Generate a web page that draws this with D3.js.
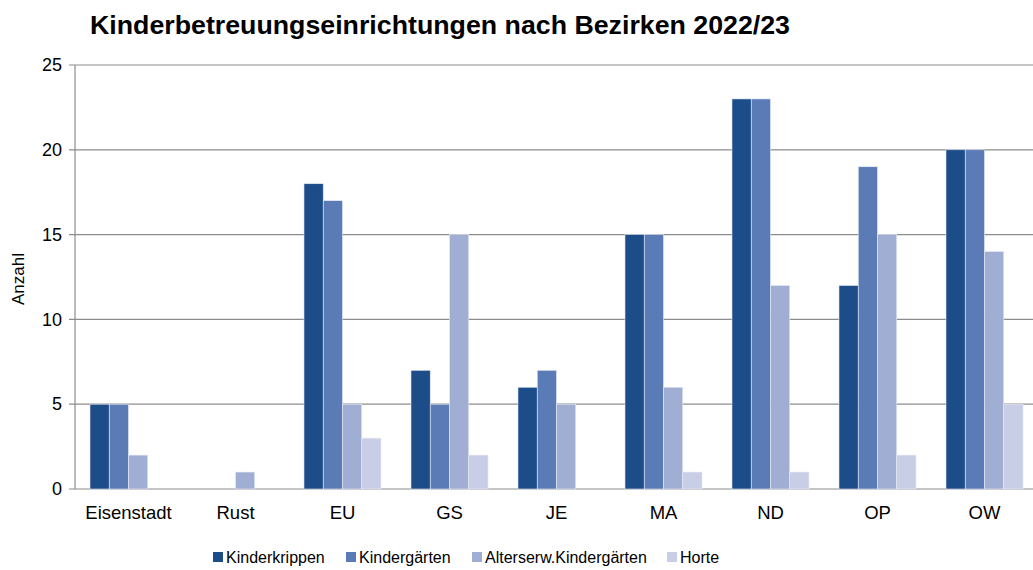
<!DOCTYPE html>
<html>
<head>
<meta charset="utf-8">
<script src="https://cdn.jsdelivr.net/npm/d3@7"></script>
<style>
  body { margin: 0; background: #fff; }
  svg { font-family: "Liberation Sans", Arial, sans-serif; }
</style>
</head>
<body>
<svg id="chart"></svg>
<script>
// Data
let categories = ['Eisenstadt', 'Rust', 'EU', 'GS', 'JE', 'MA', 'ND', 'OP', 'OW'];
let seriesNames = ['Kinderkrippen', 'Kindergärten', 'Alterserw.Kindergärten', 'Horte'];
let kinderkrippen = [5, 0, 18, 7, 6, 15, 23, 12, 20];
let kindergaerten = [5, 0, 17, 5, 7, 15, 23, 19, 20];
let alterserw = [2, 1, 5, 15, 5, 6, 12, 15, 14];
let horte = [0, 0, 3, 2, 0, 1, 1, 2, 5];
let yTicks = [0, 5, 10, 15, 20, 25];

let colors = ['#1c4d89', '#5b7bb7', '#a0aed4', '#c8cee6'];
let seriesValues = [kinderkrippen, kindergaerten, alterserw, horte];

let width = 1033;
let height = 570;
let margin = {left: 75, top: 65, right: -5, bottom: 81};

let svg = d3.select('#chart')
    .attr('width', width)
    .attr('height', height);

let xScale = d3.scaleBand()
    .domain(categories)
    .range([margin.left, width - margin.right])
    .paddingInner(0.28)
    .paddingOuter(0.14);

let innerScale = d3.scaleBand()
    .domain(seriesNames)
    .range([0, xScale.bandwidth()]);

let yScale = d3.scaleLinear()
    .domain([0, 25])
    .range([height - margin.bottom, margin.top]);

// gridlines
svg.append('g')
    .selectAll('line')
    .data(yTicks)
    .enter()
    .append('line')
    .attr('x1', margin.left - 6)
    .attr('x2', width)
    .attr('y1', d => yScale(d))
    .attr('y2', d => yScale(d))
    .attr('stroke', '#8c8c8c')
    .attr('stroke-width', 1.2);

// bars
let rows = [];
categories.forEach((c, i) => {
    seriesNames.forEach((s, j) => {
        rows.push({cat: c, series: s, value: seriesValues[j][i], color: colors[j]});
    });
});

svg.append('g')
    .selectAll('rect')
    .data(rows.filter(d => d.value > 0))
    .enter()
    .append('rect')
    .attr('x', d => xScale(d.cat) + innerScale(d.series))
    .attr('y', d => yScale(d.value))
    .attr('width', innerScale.bandwidth())
    .attr('height', d => yScale(0) - yScale(d.value))
    .attr('fill', d => d.color)
    .attr('stroke', '#e8ecf6')
    .attr('stroke-width', 0.6);

// y axis
let yAxis = d3.axisLeft(yScale).tickValues(yTicks).tickSize(0).tickPadding(13);
let yG = svg.append('g')
    .attr('transform', 'translate(' + margin.left + ',0)')
    .call(yAxis);
yG.select('.domain').remove();
yG.selectAll('text')
    .attr('font-size', 18)
    .attr('fill', '#000')
    .attr('font-family', '"Liberation Sans", Arial, sans-serif');

svg.append('line')
    .attr('x1', margin.left)
    .attr('x2', margin.left)
    .attr('y1', yScale(25))
    .attr('y2', yScale(0))
    .attr('stroke', '#8c8c8c')
    .attr('stroke-width', 1.2);

// x axis
let xAxis = d3.axisBottom(xScale).tickSize(0).tickPadding(17);
let xG = svg.append('g')
    .attr('transform', 'translate(0,' + yScale(0) + ')')
    .call(xAxis);
xG.select('.domain').remove();
xG.selectAll('text')
    .attr('font-size', 18.5)
    .attr('fill', '#000')
    .attr('font-family', '"Liberation Sans", Arial, sans-serif');

// title
svg.append('text')
    .attr('x', 90)
    .attr('y', 34)
    .attr('font-size', 25)
    .attr('font-weight', 'bold')
    .attr('textLength', 700)
    .attr('lengthAdjust', 'spacingAndGlyphs')
    .text('Kinderbetreuungseinrichtungen nach Bezirken 2022/23');

// y label
svg.append('text')
    .attr('transform', 'translate(24,' + 279 + ') rotate(-90)')
    .attr('text-anchor', 'middle')
    .attr('font-size', 17)
    .text('Anzahl');

// legend
let legendX = [213, 346, 472, 667];
let legend = svg.append('g')
    .selectAll('g')
    .data(seriesNames)
    .enter()
    .append('g')
    .attr('transform', (d, i) => 'translate(' + legendX[i] + ',557)');
legend.append('rect')
    .attr('x', 0)
    .attr('y', -5)
    .attr('width', 10)
    .attr('height', 10)
    .attr('fill', (d, i) => colors[i]);
legend.append('text')
    .attr('x', 13)
    .attr('y', 6)
    .attr('font-size', 16)
    .text(d => d);
</script>
</body>
</html>
